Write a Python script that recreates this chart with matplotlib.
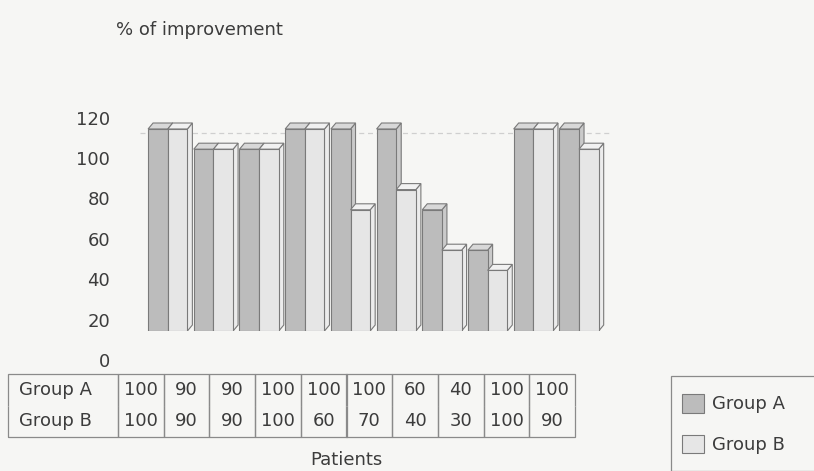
import matplotlib
matplotlib.use("Agg")
import matplotlib.pyplot as plt
from matplotlib.patches import Polygon, Rectangle
from matplotlib.transforms import ScaledTranslation

# ---- data -------------------------------------------------------------
patients = list(range(1, 11))
group_a = [100, 90, 90, 100, 100, 100, 60, 40, 100, 100]
group_b = [100, 90, 90, 100, 60, 70, 40, 30, 100, 90]
series_names = ["Group A", "Group B"]
y_ticks = [0, 20, 40, 60, 80, 100, 120]

# ---- style ------------------------------------------------------------
BG = "#f6f6f4"
TEXT = "#3c3c3c"
EDGE = "#7a7a7a"
FRONT = ["#bcbcbc", "#e6e6e6"]
TOP = ["#d8d8d8", "#f1f1f1"]
SIDE = ["#cacaca", "#ececec"]
FS = 13

W, H, DPI = 814, 471, 100
fig = plt.figure(figsize=(W / DPI, H / DPI), dpi=DPI, facecolor=BG)
plt.rcParams["font.family"] = ["DejaVu Sans"]

# plot area in pixel terms
ax_left, ax_bottom = 117, 331
col_px = 45.7
x_max, y_max = 11, 130
px_per_unit = 2.02
ax = fig.add_axes([ax_left / W, (H - ax_bottom) / H,
                   x_max * col_px / W, y_max * px_per_unit / H])
ax.set_facecolor("none")
ax.set_xlim(0, x_max)
ax.set_ylim(0, y_max)
for s in ax.spines.values():
    s.set_visible(False)
ax.set_xticks([])

# pseudo-3D depth (in data units)
dx = 5 / col_px
dy = 6 / px_per_unit
bar_w = 0.43
offsets = [0.68, 0.68 + bar_w]

# faint back-wall gridline
wall = ax.transData + ScaledTranslation(0, -4 / DPI, fig.dpi_scale_trans)
ax.plot([0.5, 10.8], [100, 100], color="#cfcfcf", lw=0.9, ls=(0, (4, 3)),
        zorder=0.5, transform=wall)

handles = []
for i in range(len(patients)):
    for k, vals in enumerate([group_a, group_b]):
        h = vals[i]
        x0 = i + offsets[k]
        x1 = x0 + bar_w
        z = 2 + i * 3 + k * 1.5
        side = Polygon([(x1, 0), (x1 + dx, dy), (x1 + dx, h + dy), (x1, h)],
                       closed=True, facecolor=SIDE[k], edgecolor=EDGE,
                       lw=0.8, zorder=z)
        top = Polygon([(x0, h), (x1, h), (x1 + dx, h + dy), (x0 + dx, h + dy)],
                      closed=True, facecolor=TOP[k], edgecolor=EDGE,
                      lw=0.8, zorder=z + 0.1)
        ax.add_patch(side)
        ax.add_patch(top)
        b = ax.bar(x0, h, width=bar_w, align="edge", color=FRONT[k],
                   edgecolor=EDGE, linewidth=0.8, zorder=z + 0.2,
                   label=series_names[k] if i == 0 else None)
        if i == 0:
            handles.append(b)

# y axis labels (drawn on the wall, below the front face)
ax.set_yticks(y_ticks)
ax.set_yticklabels([str(t) for t in y_ticks])
ax.tick_params(axis="y", length=0, pad=5, labelsize=FS, labelcolor=TEXT)
shift = ScaledTranslation(0, -29 / DPI, fig.dpi_scale_trans)
for lbl in ax.get_yticklabels():
    lbl.set_transform(lbl.get_transform() + shift)

# titles
fig.text(116 / W, 1 - 30 / H, "% of improvement", ha="left", va="center",
         fontsize=FS, color=TEXT)
fig.text(346 / W, 1 - 460 / H, "Patients", ha="center", va="center",
         fontsize=FS, color=TEXT)

# data table
tax = fig.add_axes([8 / W, (H - 437) / H, (575 - 8) / W, (437 - 374) / H])
tax.axis("off")
rows = [[series_names[0]] + [str(v) for v in group_a],
        [series_names[1]] + [str(v) for v in group_b]]
widths = [110] + [col_px] * len(patients)
tot = sum(widths)
tab = tax.table(cellText=rows, colWidths=[w / tot for w in widths],
                cellLoc="center", bbox=[0, 0, 1, 1])
tab.auto_set_font_size(False)
tab.set_fontsize(FS)
for (r, c), cell in tab.get_celld().items():
    cell.set_facecolor("none")
    cell.set_edgecolor("#8a8a8a")
    cell.set_linewidth(0.9)
    cell.visible_edges = "TLR" if r == 0 else "BLR"
    cell.get_text().set_color(TEXT)
    if c == 0:
        cell.get_text().set_ha("left")
        cell._loc = "left"
        cell.PAD = 0.1

# legend box (runs off the lower right corner of the page)
fig.patches.append(Rectangle((671 / W, 0), (W + 20 - 671) / W, (H - 376) / H,
                             transform=fig.transFigure, facecolor=BG,
                             edgecolor="#8a8a8a", lw=0.9, clip_on=False,
                             zorder=1))
leg = fig.legend(handles=handles, labels=series_names, loc="upper left",
                 bbox_to_anchor=(671 / W, 1 - 383 / H), fontsize=FS,
                 frameon=False, handlelength=1.22, handleheight=1.22,
                 handletextpad=0.45, labelspacing=1.18, borderpad=0.6,
                 borderaxespad=0)
leg.set_zorder(2)
for t in leg.get_texts():
    t.set_color(TEXT)

fig.savefig("out.png", dpi=DPI, facecolor=BG)
